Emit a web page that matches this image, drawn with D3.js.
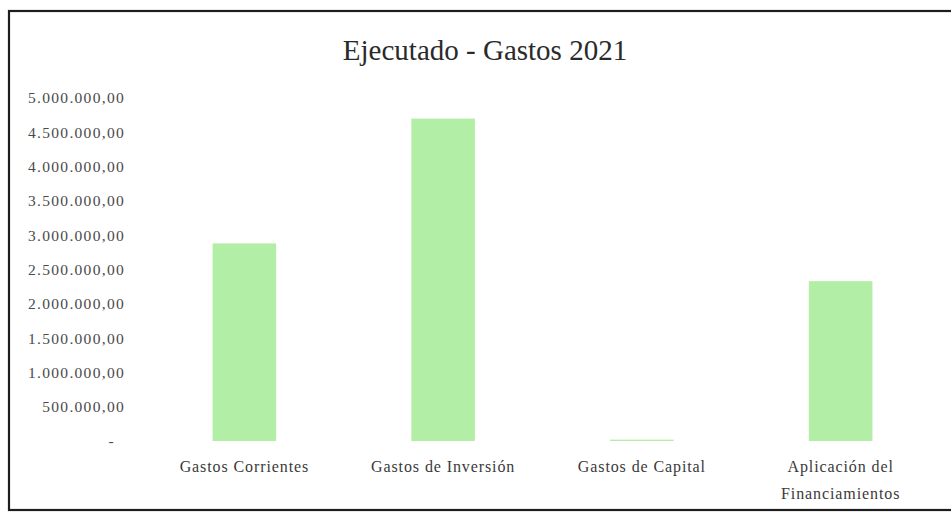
<!DOCTYPE html>
<html>
<head>
<meta charset="utf-8">
<script src="https://cdn.jsdelivr.net/npm/d3@7"></script>
<style>
  html, body { margin: 0; padding: 0; background: #fff; }
  svg { display: block; }
</style>
</head>
<body>
<svg id="chart" width="951" height="515"></svg>
<script>
const title = "Ejecutado - Gastos 2021";
const categories = [
  ["Gastos Corrientes"],
  ["Gastos de Inversión"],
  ["Gastos de Capital"],
  ["Aplicación del", "Financiamientos"]
];
const values = [2880000, 4700000, 20000, 2330000];
const yTicks = [0, 500000, 1000000, 1500000, 2000000, 2500000, 3000000, 3500000, 4000000, 4500000, 5000000];

const svg = d3.select("#chart");
const SERIF = '"Liberation Serif", "Times New Roman", Times, serif';

// Frame
svg.append("rect")
  .attr("x", 9).attr("y", 11)
  .attr("width", 960).attr("height", 499)
  .attr("fill", "#fff")
  .attr("stroke", "#1e1e1e")
  .attr("stroke-width", 2.2);

// Title
svg.append("text")
  .attr("x", 485).attr("y", 60)
  .attr("text-anchor", "middle")
  .style("font-family", SERIF)
  .style("font-size", "29px")
  .attr("fill", "#2a2a2a")
  .text(title);

const x = d3.scaleBand()
  .domain(categories.map((d, i) => i))
  .range([145, 940])
  .paddingInner(0.68)
  .paddingOuter(0.34);

const y = d3.scaleLinear()
  .domain([0, 5000000])
  .range([441, 98]);

const fmt = v => v === 0 ? "-" : d3.format(",.2f")(v).replace(/,/g, "#").replace(/\./g, ",").replace(/#/g, ".");

// Y axis (labels only)
const yAxis = d3.axisLeft(y).tickValues(yTicks).tickSize(0).tickPadding(0).tickFormat(fmt);
const gy = svg.append("g").attr("transform", "translate(125,0)").call(yAxis);
gy.attr("font-family", null).attr("font-size", null);
gy.select(".domain").remove();
gy.selectAll("text")
  .style("font-family", SERIF)
  .style("font-size", "15.5px")
  .style("letter-spacing", "1.3px")
  .attr("fill", "#4a4a4a")
  .attr("dx", d => d === 0 ? -10 : 0);

// Bars
svg.append("g").selectAll("rect")
  .data(values)
  .join("rect")
  .attr("x", (d, i) => x(i))
  .attr("y", d => y(d))
  .attr("width", x.bandwidth())
  .attr("height", d => y(0) - y(d))
  .attr("fill", "#b3eea6");

// X axis labels
const xAxis = d3.axisBottom(x).tickSize(0).tickPadding(0).tickFormat(() => "");
const gx = svg.append("g").attr("transform", "translate(0,441)").call(xAxis);
gx.attr("font-family", null).attr("font-size", null);
gx.select(".domain").remove();
gx.selectAll(".tick text").remove();
gx.selectAll(".tick").each(function(i) {
  const t = d3.select(this).append("text")
    .attr("text-anchor", "middle")
    .style("font-family", SERIF)
    .style("font-size", "16px")
    .style("letter-spacing", "0.9px")
    .attr("fill", "#3a3a3a");
  categories[i].forEach((line, k) => {
    t.append("tspan").attr("x", 0).attr("y", 31 + k * 27).text(line);
  });
});
</script>
</body>
</html>
